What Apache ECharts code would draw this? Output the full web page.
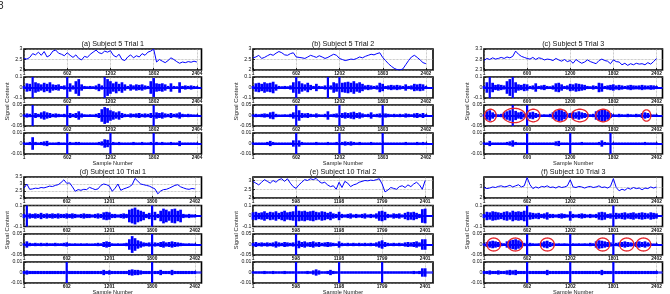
<!DOCTYPE html>
<html><head><meta charset="utf-8">
<script src="https://cdn.jsdelivr.net/npm/echarts@6/dist/echarts.min.js"></script>
<style>html,body{margin:0;padding:0;background:#fff}#c{width:670px;height:294px}</style>
</head><body><div id="c"></div>
<script>
// ---- data (sample step 40 for approximation lines and envelope bins) ----
const STEP = 40;
const a_ticks = [1,602,1202,1802,2404];
const b_ticks = [1,602,1202,1803,2402];
const c_ticks = [1,600,1200,1802,2402];
const d_ticks = [1,602,1201,1800,2402];
const e_ticks = [1,598,1198,1799,2401];
const f_ticks = [1,602,1202,1801,2402];

const a_top = [2.55,2.52,2.6,2.78,2.72,2.85,2.7,2.88,2.62,2.7,2.9,2.95,2.8,2.75,2.68,2.82,2.7,2.6,2.72,2.55,2.48,2.65,2.6,2.75,2.85,2.95,2.82,2.78,2.9,2.85,2.92,2.7,2.62,2.75,2.5,2.45,2.62,2.72,2.58,2.68,2.62,2.78,2.7,2.85,2.9,3.0,2.38,2.5,2.42,2.35,2.45,2.58,2.5,2.4,2.32,2.38,2.35,2.4,2.37,2.42,2.38];
const b_top = [2.58,2.62,2.7,2.55,2.6,2.68,2.75,2.7,2.8,2.88,2.82,2.72,2.7,2.78,2.82,2.62,2.6,2.58,2.55,2.62,2.7,2.65,2.6,2.68,2.62,2.55,2.6,2.68,2.75,2.7,2.55,2.5,2.45,2.48,2.52,2.5,2.55,2.62,2.58,2.65,2.7,2.75,2.72,2.78,2.82,2.6,2.45,2.3,2.18,2.08,2.02,2.0,2.05,2.25,2.45,2.62,2.7,2.6,2.48,2.35,2.3];
const c_top = [2.75,2.85,2.8,2.88,2.82,2.85,2.9,2.85,2.92,2.88,2.95,3.2,3.05,2.95,2.9,2.85,2.82,2.9,2.8,2.88,2.85,2.78,2.82,2.8,2.75,2.85,2.78,2.72,2.8,2.7,2.75,2.62,2.8,2.7,2.62,2.68,2.78,2.7,2.65,2.6,2.75,2.82,2.75,2.72,2.6,2.78,2.7,2.68,2.55,2.62,2.52,2.6,2.55,2.62,2.58,2.6,2.55,2.65,2.58,2.7,2.85];
const d_top = [2.7,3.0,2.62,2.65,2.7,2.68,2.75,2.72,2.78,2.85,2.82,2.9,2.95,3.1,3.3,3.05,3.08,2.8,2.48,2.6,2.55,2.62,2.6,2.76,2.68,2.6,2.65,2.9,3.0,2.95,2.85,2.48,2.7,3.0,2.55,2.65,2.72,2.8,2.95,3.4,3.2,3.0,2.95,2.9,2.85,2.75,2.65,2.3,2.5,2.6,2.62,2.7,2.8,2.9,2.95,2.8,2.72,2.65,2.62,2.68,2.65];
const e_top = [2.95,2.85,2.75,2.9,3.05,2.95,2.85,3.0,2.9,3.05,3.1,2.95,3.1,2.85,2.65,2.55,2.75,2.9,3.05,3.0,3.1,3.05,3.12,2.95,2.85,2.9,2.75,2.65,2.7,2.5,2.9,2.6,2.95,2.85,2.65,2.75,2.8,2.9,2.95,3.0,2.98,3.02,3.0,3.05,3.1,2.8,2.35,2.45,2.6,2.55,2.5,2.65,2.7,2.6,2.75,2.65,2.8,2.9,2.75,2.5,3.0];
const f_top = [2.95,2.85,2.9,3.0,2.95,3.05,3.1,3.0,3.05,3.15,3.0,3.1,3.2,3.0,3.1,3.85,3.2,2.85,3.0,2.9,3.05,3.0,3.1,2.95,3.0,2.9,3.05,2.95,3.0,3.1,3.65,3.0,2.95,3.05,3.0,2.9,3.0,3.05,2.95,3.0,3.1,2.95,3.0,2.9,3.05,3.75,2.95,2.65,2.8,2.7,2.9,2.8,2.95,2.85,2.9,2.75,2.9,2.85,3.0,2.9,3.0];

// detail envelopes (half amplitude per bin)
const a_l2 = [.015,.04,.035,.3,.05,.04,.03,.045,.035,.05,.03,.025,.03,.015,.02,.3,.04,.02,.06,.08,.03,.015,.012,.015,.012,.02,.035,.02,.3,.08,.06,.04,.055,.035,.05,.03,.015,.03,.02,.03,.025,.03,.02,.015,.06,.09,.04,.035,.04,.03,.015,.04,.015,.012,.05,.015,.02,.015,.02,.015,.012];
const a_l3 = [.005,.01,.008,.2,.012,.008,.015,.02,.015,.012,.008,.01,.008,.006,.008,.2,.012,.008,.012,.02,.01,.006,.005,.006,.005,.008,.012,.03,.04,.035,.025,.02,.015,.02,.012,.008,.006,.01,.008,.01,.012,.008,.01,.008,.012,.2,.015,.012,.015,.01,.008,.012,.008,.01,.015,.008,.006,.008,.006,.005,.005];
const a_l4 = [.001,.001,.0015,.006,.0015,.001,.0015,.002,.0025,.001,.001,.001,.0015,.001,.001,.05,.0015,.001,.0015,.0015,.001,.001,.001,.001,.001,.001,.0015,.002,.004,.0035,.05,.0015,.001,.0015,.001,.001,.001,.001,.0015,.001,.001,.0015,.001,.001,.0015,.05,.0015,.001,.0015,.001,.001,.0015,.001,.001,.0025,.001,.001,.001,.001,.001,.001];
const b_l2 = [.015,.04,.045,.035,.05,.04,.045,.055,.03,.015,.012,.015,.012,.02,.05,.3,.06,.04,.03,.045,.025,.015,.035,.015,.012,.02,.3,.02,.05,.04,.3,.045,.05,.055,.045,.06,.04,.05,.035,.02,.025,.02,.015,.02,.045,.035,.015,.02,.025,.02,.025,.02,.015,.03,.015,.02,.035,.03,.035,.03,.015];
const b_l3 = [.005,.008,.006,.008,.01,.008,.015,.018,.008,.005,.005,.006,.005,.008,.015,.2,.025,.012,.01,.012,.008,.006,.01,.006,.005,.008,.02,.006,.008,.01,.2,.012,.015,.012,.015,.018,.012,.015,.01,.006,.008,.015,.006,.008,.01,.2,.01,.008,.006,.008,.006,.008,.006,.01,.008,.006,.01,.012,.008,.012,.006];
const b_l4 = [.001,.001,.001,.001,.001,.0015,.0025,.0015,.001,.001,.001,.001,.001,.001,.003,.05,.003,.0015,.001,.001,.001,.001,.0015,.001,.001,.001,.0015,.001,.001,.0015,.05,.0015,.002,.0015,.002,.0015,.001,.0015,.001,.001,.001,.0015,.001,.001,.001,.05,.001,.001,.001,.001,.001,.001,.001,.0015,.001,.001,.001,.0015,.001,.0015,.001];
const c_l2 = [.015,.05,.3,.045,.025,.03,.025,.02,.06,.08,.3,.05,.03,.025,.035,.03,.015,.02,.04,.015,.02,.025,.015,.012,.02,.04,.045,.03,.015,.02,.035,.03,.04,.035,.03,.025,.015,.012,.02,.015,.045,.04,.015,.02,.025,.03,.02,.025,.02,.015,.02,.025,.02,.018,.02,.025,.02,.018,.022,.02,.015];
const c_l3 = [.005,.02,.025,.015,.008,.006,.008,.015,.02,.025,.2,.022,.015,.018,.01,.2,.015,.018,.012,.008,.005,.006,.005,.008,.015,.02,.028,.025,.018,.01,.012,.018,.015,.02,.015,.012,.008,.006,.008,.02,.025,.03,.028,.02,.012,.006,.005,.008,.006,.005,.008,.006,.005,.008,.006,.012,.015,.012,.006,.005,.005];
const c_l4 = [.001,.001,.0025,.001,.001,.001,.001,.001,.0015,.002,.003,.0015,.001,.001,.001,.05,.001,.001,.001,.001,.001,.001,.001,.001,.001,.002,.0025,.001,.001,.001,.05,.001,.001,.001,.0015,.001,.001,.001,.001,.001,.0015,.003,.0015,.001,.05,.001,.001,.001,.001,.001,.001,.001,.001,.001,.001,.001,.0015,.001,.001,.001,.001];
const d_l2 = [.02,.3,.025,.02,.025,.02,.03,.02,.025,.02,.025,.02,.025,.02,.02,.025,.02,.025,.02,.015,.02,.025,.02,.02,.015,.02,.025,.02,.035,.04,.035,.02,.02,.015,.02,.025,.02,.06,.07,.08,.06,.05,.04,.02,.03,.3,.04,.02,.05,.07,.06,.045,.065,.07,.05,.06,.02,.015,.02,.015,.015];
const d_l3 = [.005,.015,.008,.006,.008,.006,.008,.006,.008,.006,.006,.008,.006,.006,.008,.01,.006,.005,.006,.005,.006,.005,.006,.005,.005,.006,.008,.006,.012,.015,.012,.006,.005,.006,.005,.006,.008,.025,.04,.03,.02,.015,.01,.008,.01,.2,.01,.008,.012,.015,.01,.012,.015,.012,.01,.008,.006,.005,.006,.005,.005];
const d_l4 = [.0015,.002,.0015,.0015,.0015,.0015,.0015,.0015,.0015,.0015,.0015,.0015,.0015,.0015,.0015,.05,.0015,.0015,.0015,.0015,.0015,.0015,.0015,.0015,.0015,.0015,.0015,.0015,.0025,.0015,.002,.0015,.0015,.0015,.0015,.0015,.0015,.0025,.003,.0025,.0025,.002,.0015,.0015,.0015,.05,.0015,.0015,.0025,.0015,.0015,.0015,.0025,.0015,.0015,.0015,.0015,.0015,.0015,.0015,.0015];
const e_l2 = [.035,.04,.03,.035,.045,.03,.04,.035,.045,.03,.04,.05,.035,.04,.045,.3,.05,.045,.05,.04,.045,.05,.04,.035,.045,.04,.03,.04,.025,.02,.04,.02,.015,.02,.025,.015,.02,.015,.02,.025,.015,.02,.015,.025,.045,.05,.04,.02,.015,.025,.02,.025,.015,.03,.04,.035,.04,.03,.02,.065,.07];
const e_l3 = [.008,.012,.008,.01,.008,.01,.008,.01,.015,.01,.008,.012,.01,.008,.01,.2,.018,.012,.015,.01,.012,.015,.01,.012,.008,.01,.012,.01,.008,.006,.015,.008,.006,.008,.006,.008,.006,.008,.006,.008,.006,.008,.006,.01,.015,.02,.012,.008,.006,.008,.006,.008,.006,.01,.012,.01,.012,.015,.01,.025,.025];
const e_l4 = [.001,.001,.001,.001,.0015,.001,.001,.0015,.001,.001,.001,.0015,.001,.001,.001,.05,.001,.001,.001,.0015,.001,.002,.003,.002,.001,.001,.0015,.0025,.0015,.001,.05,.001,.001,.001,.001,.001,.001,.001,.001,.001,.001,.001,.001,.001,.001,.05,.001,.001,.001,.001,.001,.001,.001,.001,.001,.001,.0015,.001,.0015,.004,.004];
const f_l2 = [.02,.04,.035,.045,.04,.035,.03,.04,.045,.035,.05,.04,.045,.04,.05,.3,.035,.03,.025,.03,.02,.025,.035,.02,.02,.015,.02,.025,.02,.015,.045,.02,.015,.02,.025,.02,.015,.02,.015,.02,.035,.04,.035,.02,.025,.3,.03,.025,.03,.035,.025,.03,.035,.025,.03,.035,.03,.025,.035,.03,.025];
const f_l3 = [.005,.012,.015,.018,.015,.012,.008,.006,.015,.02,.022,.025,.02,.015,.008,.2,.008,.006,.005,.006,.01,.015,.018,.012,.008,.005,.006,.005,.006,.005,.2,.006,.005,.006,.005,.006,.005,.008,.006,.015,.02,.018,.015,.012,.01,.2,.008,.01,.012,.015,.012,.01,.008,.012,.015,.012,.015,.01,.006,.005,.005];
const f_l4 = [.0015,.0015,.002,.0015,.0015,.002,.0015,.0015,.002,.0025,.002,.0025,.0015,.0015,.0015,.05,.0015,.0015,.0015,.0015,.0015,.0015,.0025,.0015,.0015,.0015,.0015,.0015,.0015,.0015,.05,.0015,.0015,.0015,.0015,.0015,.0015,.0015,.0015,.0015,.0015,.0025,.0015,.0015,.0015,.05,.0015,.0015,.0015,.0015,.0015,.0015,.0015,.0015,.0015,.0015,.0015,.0015,.0015,.0015,.0015];

// highlighted regions: [start sample, end sample, half height]
const c_ellipses = [[10,171,.03],[263,577,.034],[595,780,.03],[955,1163,.03],[1219,1450,.03],[1556,1764,.03],[2202,2322,.027]];
const f_ellipses = [[42,231,.031],[332,540,.031],[785,979,.031],[1556,1750,.031],[1888,2087,.031],[2119,2322,.031]];

const titles = ['(a) Subject 5 Trial 1','(b) Subject 5 Trial 2','(c) Subject 5 Trial 3','(d) Subject 10 Trial 1','(e) Subject 10 Trial 2','(f) Subject 10 Trial 3'];
const topRanges = [[2,3],[2,3],[2.3,3.3],[2,3.5],[2,3.2],[2,3.9]];
const topTicks = [[2,2.5,3],[2,2.5,3],[2.3,2.8,3.3],[2,2.5,3,3.5],[2,2.5,3],[2,3]];
const levelLimits = [0.1,0.05,0.01];
const xMaxes = [2465,2500,2485,2495,2510,2485];

// ---- layout ----
const COLS = [{left:24,width:177.5},{left:253,width:180},{left:484,width:178.5}];
const ROWS = [[49,77,105,133],[177,205.5,234,262]];
const PH = 21;
const BLUE = '#0000ff';
const FONT = '"Liberation Sans", Arial, sans-serif';

const panels = [
  {ticks:a_ticks, top:a_top, lv:[a_l2,a_l3,a_l4], ell:null},
  {ticks:b_ticks, top:b_top, lv:[b_l2,b_l3,b_l4], ell:null},
  {ticks:c_ticks, top:c_top, lv:[c_l2,c_l3,c_l4], ell:c_ellipses},
  {ticks:d_ticks, top:d_top, lv:[d_l2,d_l3,d_l4], ell:null},
  {ticks:e_ticks, top:e_top, lv:[e_l2,e_l3,e_l4], ell:null},
  {ticks:f_ticks, top:f_top, lv:[f_l2,f_l3,f_l4], ell:f_ellipses}
];

const grid=[], xAxis=[], yAxis=[], series=[], graphic=[];
const plain = v => String(v);

function envRender(lim){
  return function(params, api){
    const x = api.value(0), a = api.value(1);
    const p1 = api.coord([x, a]), p2 = api.coord([x, -a]);
    const cs = params.coordSys;
    const y1 = Math.max(p1[1], cs.y), y2 = Math.min(p2[1], cs.y + cs.height);
    const w = a > lim ? 2.2 : 2.7;
    return {type:'rect', shape:{x:p1[0]-w/2, y:y1, width:w, height:y2-y1}, style:{fill:BLUE}};
  };
}
function ellRender(params, api){
  const x0 = api.value(0), x1 = api.value(1), h = api.value(2);
  const cx = (x0+x1)/2, rx = (x1-x0)/2;
  const pts = [];
  for (let k=0;k<=60;k++){ const t = k/60*2*Math.PI; pts.push(api.coord([cx+rx*Math.cos(t), h*Math.sin(t)])); }
  return {type:'polygon', shape:{points:pts}, style:{fill:'none', stroke:'#e3262c', lineWidth:1.3}};
}

let gi = 0;
panels.forEach((p, pi) => {
  const row = Math.floor(pi/3), col = pi%3;
  const L = COLS[col].left, W = COLS[col].width;
  for (let k=0;k<4;k++){
    grid.push({left:L, width:W, top:ROWS[row][k], height:PH, show:true, borderColor:'#000', borderWidth:1.6, backgroundColor:'#fff'});
    xAxis.push({type:'value', gridIndex:gi, min:1, max:xMaxes[pi],
      axisLine:{show:false},
      axisTick:{show:true, inside:true, length:2, customValues:p.ticks, lineStyle:{color:'#000', width:0.8}},
      axisLabel:{show:true, customValues:p.ticks, formatter:plain, fontSize:4.8, fontWeight:'bold', color:'#111', margin:1.5, fontFamily:FONT},
      splitLine:{show:true, lineStyle:{type:'dotted', color:'#9a9a9a', width:0.7}}});
    let ymin, ymax, yt;
    if (k===0){ ymin = topRanges[pi][0]; ymax = topRanges[pi][1]; yt = topTicks[pi]; }
    else { const lim = levelLimits[k-1]; ymin = -lim; ymax = lim; yt = [-lim,0,lim]; }
    yAxis.push({type:'value', gridIndex:gi, min:ymin, max:ymax,
      axisLine:{show:false},
      axisTick:{show:true, inside:true, length:2, customValues:yt, lineStyle:{color:'#000', width:0.8}},
      axisLabel:{show:true, customValues:yt, formatter:plain, fontSize:5.2, color:'#111', margin:1.5, fontFamily:FONT},
      splitLine:{show:true, lineStyle:{type:'dotted', color:'#9a9a9a', width:0.7}}});
    if (k===0){
      series.push({type:'line', xAxisIndex:gi, yAxisIndex:gi, showSymbol:false, symbol:'none', silent:true, animation:false,
        lineStyle:{color:BLUE, width:1}, data:p.top.map((v,i)=>[1+STEP*i, v]), z:3});
    } else {
      const lim = levelLimits[k-1];
      series.push({type:'custom', xAxisIndex:gi, yAxisIndex:gi, silent:true, animation:false,
        renderItem:envRender(lim), encode:{x:0, y:1}, data:p.lv[k-1].map((v,i)=>[1+STEP*i, v]), z:3,
        markLine:{silent:true, symbol:'none', animation:false, label:{show:false},
          lineStyle:{color:BLUE, width:k===3 && row===1 ? 2.6 : 1.8, type:'solid', opacity:k===3 && row===1 ? 0.7 : 1},
          data:[{yAxis:0}]}});
      if (k===2 && p.ell){
        series.push({type:'custom', xAxisIndex:gi, yAxisIndex:gi, silent:true, animation:false,
          renderItem:ellRender, dimensions:['x0','x1','h'], encode:{x:[0,1], y:2}, data:p.ell, z:5});
      }
    }
    gi++;
  }
  const cx = L + W/2;
  graphic.push({type:'text', x:cx, y:ROWS[row][0]-4.5, style:{text:titles[pi], font:'7.2px '+FONT, fill:'#111', textAlign:'center', textVerticalAlign:'middle', verticalAlign:'middle'}});
  graphic.push({type:'text', x:cx, y:ROWS[row][3]+PH+9.5, style:{text:'Sample Number', font:'5.6px '+FONT, fill:'#222', textAlign:'center', textVerticalAlign:'middle', verticalAlign:'middle'}});
  const midY = (ROWS[row][1] + ROWS[row][2] + PH)/2;
  graphic.push({type:'text', x:L-17, y:midY, rotation:Math.PI/2, style:{text:'Signal Content', font:'5.8px '+FONT, fill:'#222', textAlign:'center', textVerticalAlign:'middle', verticalAlign:'middle'}});
});
graphic.push({type:'text', x:-2, y:6, style:{text:'8', font:'10px '+FONT, fill:'#222', textAlign:'left', textVerticalAlign:'middle', verticalAlign:'middle'}});

const chart = echarts.init(document.getElementById('c'), null, {renderer:'canvas'});
chart.setOption({animation:false, backgroundColor:'#fff', grid, xAxis, yAxis, series, graphic});
</script></body></html>
